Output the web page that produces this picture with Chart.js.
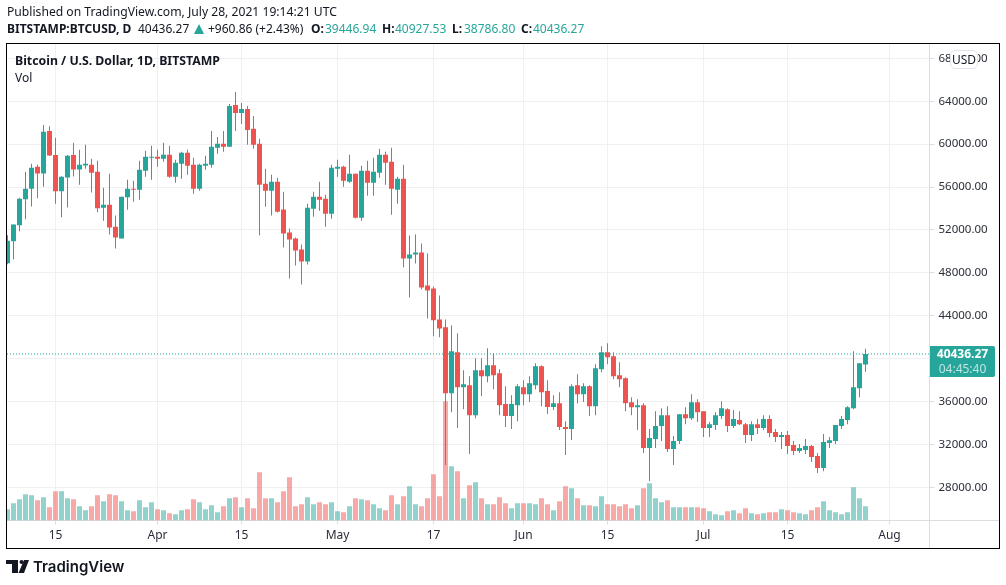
<!DOCTYPE html>
<html>
<head>
<meta charset="utf-8">
<script src="https://cdn.jsdelivr.net/npm/chart.js@4/dist/chart.umd.min.js"></script>
<style>
    body { margin: 0; background: #fff; font-family: "Noto Sans", sans-serif; color: #131722; }
    #wrap { position: relative; width: 1006px; height: 585px; overflow: hidden; }
    canvas { position: absolute; left: 0; top: 0; }
    .t { position: absolute; white-space: nowrap; font-size: 12px; line-height: 16px; }
    .b { font-weight: 700; }
    .up { color: #26a69a; }
    #frame { position: absolute; left: 6px; top: 43px; width: 994px; height: 506px; box-sizing: border-box; border: 1px solid #000; }
    #usd { position: absolute; left: 950px; top: 50px; width: 28px; height: 19px; box-sizing: border-box; background: #fff; border: 1px solid #e0e3eb; border-radius: 5px; font-size: 12px; line-height: 17px; text-align: center; }
    #last { position: absolute; left: 930px; top: 346px; width: 65px; height: 31px; background: #26a69a; border-radius: 0 2px 2px 0; text-align: center; font-size: 12px; line-height: 15px; color: #fff; }
    #last div:last-child { color: rgba(255,255,255,.7); }
</style>
</head>
<body>
<div id="wrap">
    <canvas id="btcChart" width="1006" height="585"></canvas>
    <div id="frame"></div>

    <div class="t" style="left:7px;top:4px;font-size:12.15px">Published on TradingView.com, July 28, 2021 19:14:21 UTC</div>
    <div class="t b" style="left:7px;top:21px">BITSTAMP:BTCUSD, D</div>
    <div class="t" style="left:138px;top:21px">40436.27</div>
    <svg style="position:absolute;left:194px;top:24px" width="10" height="10"><polygon points="5,0 10,10 0,10" fill="#26a69a"/></svg>
    <div class="t" style="left:208px;top:21px">+960.86 (+2.43%)</div>
    <div class="t b" style="left:311px;top:21px">O:</div><div class="t up" style="left:325px;top:21px">39446.94</div>
    <div class="t b" style="left:382px;top:21px">H:</div><div class="t up" style="left:395px;top:21px">40927.53</div>
    <div class="t b" style="left:452px;top:21px">L:</div><div class="t up" style="left:464px;top:21px">38786.80</div>
    <div class="t b" style="left:521px;top:21px">C:</div><div class="t up" style="left:533px;top:21px">40436.27</div>

    <div class="t b" style="left:15px;top:53px;font-size:12.3px">Bitcoin / U.S. Dollar, 1D, BITSTAMP</div>
    <div class="t" style="left:15px;top:70px">Vol</div>

    <div id="usd">USD</div>
    <div id="last"><div class="b">40436.27</div><div>04:45:40</div></div>

    <svg style="position:absolute;left:6px;top:560px" width="23" height="13" viewBox="0 0 23 13">
        <path d="M0 0H12V13H6V4H0Z" fill="#131722"/>
        <circle cx="15.5" cy="2" r="2" fill="#131722"/>
        <path d="M18 0H23L18 13H12.5Z" fill="#131722"/>
    </svg>
    <div class="t" style="left:33px;top:557px;font:600 15px/20px Inter,sans-serif">TradingView</div>
</div>

<script>
// Daily BTC/USD candles, index 0 = 7 Mar 2021
const opens = [
    48900, 50950, 52440, 54855, 55850, 57890, 57270, 61240, 59000, 55600,
    56900, 59000, 57650, 58020, 58080, 57430, 54080, 54360, 52300, 51200,
    55040, 55850, 55750, 57520, 58730, 58820, 58640, 59010, 56960, 58170,
    59200, 58080, 55850, 57990, 58080, 59660, 60030, 59750, 63660, 62920,
    63290, 61430, 60030, 56310, 55660, 56500, 53900, 51760, 51200, 50170,
    49060, 53990, 55100, 54920, 53520, 57710, 57890, 56500, 57240, 53150,
    57520, 56400, 57340, 59010, 58360, 55750, 56780, 49340, 49710, 49900,
    46820, 46540, 43660, 42920, 36780, 40590, 37340, 37520, 34730, 38920,
    38360, 39380, 38640, 35760, 34640, 35660, 37340, 36690, 37520, 39290,
    36970, 35490, 35850, 33620, 33430, 37520, 36690, 37430, 35570, 39010,
    40590, 40220, 38450, 38170, 35940, 35470, 35660, 31660, 32500, 33710,
    34730, 31570, 32310, 34820, 34450, 35940, 35100, 33520, 33800, 34640,
    35290, 33710, 34270, 33890, 32870, 33890, 33520, 34360, 33150, 32680,
    32870, 31940, 31380, 31480, 31850, 30920, 29800, 32130, 32310, 33710,
    34270, 35380, 37240, 39446.94
];
const highs = [
    51500, 52500, 55010, 57430, 58170, 58080, 61800, 61680, 60590, 57000,
    59000, 60130, 59470, 59940, 58640, 58450, 55940, 57240, 53340, 55100,
    56680, 56590, 58450, 59380, 59850, 59470, 60130, 59850, 58540, 59290,
    59470, 58730, 58170, 58920, 61240, 60680, 61240, 63750, 64870, 63850,
    63570, 62640, 60500, 57710, 57150, 56870, 55570, 52130, 51290, 50640,
    54450, 55570, 56500, 55290, 58080, 58540, 57980, 59010, 57240, 57990,
    58450, 58730, 59570, 59290, 59660, 56960, 58080, 51480, 51570, 50730,
    49800, 46730, 45890, 43660, 43100, 42360, 38920, 38360, 40030, 40030,
    40960, 40500, 39010, 37430, 36590, 37620, 37990, 38360, 39570, 39380,
    37990, 36590, 36870, 34170, 37620, 38550, 37710, 37520, 39480, 41150,
    41430, 40590, 39660, 38260, 36400, 36220, 35850, 33430, 35100, 35380,
    35570, 32780, 34820, 35470, 36680, 36220, 35100, 34080, 35010, 36030,
    35380, 35200, 35100, 33990, 34170, 34360, 34730, 34730, 33430, 33150,
    33240, 32310, 32030, 32500, 31940, 31200, 32960, 32680, 33800, 34640,
    35570, 40680, 39570, 40927.53
];
const lows = [
    48800, 49240, 51880, 53000, 54200, 54950, 56030, 58900, 54450, 53180,
    54100, 56990, 56220, 57700, 55500, 53650, 52870, 51570, 50270, 51200,
    53890, 54640, 54820, 56960, 56680, 57890, 58360, 56870, 56400, 56780,
    57150, 55380, 55660, 57610, 57800, 59100, 59290, 59750, 61240, 61890,
    59940, 59570, 51480, 54170, 53340, 53620, 50360, 47480, 48690, 46920,
    48780, 53240, 53800, 52310, 53050, 56960, 56030, 56400, 53060, 52870,
    55200, 55200, 56870, 56220, 53430, 54450, 48500, 45710, 48870, 46450,
    43750, 42080, 41990, 30080, 35010, 33520, 35290, 31100, 34450, 36500,
    37800, 37150, 34730, 33620, 33430, 34170, 35660, 35950, 37150, 35570,
    34830, 35200, 33340, 31010, 32410, 35850, 35950, 34640, 34730, 38730,
    39480, 38080, 37330, 35100, 34730, 33340, 31200, 28590, 31660, 32310,
    31290, 30080, 32030, 33890, 34270, 34080, 32680, 32680, 33340, 34360,
    33150, 33520, 33800, 32130, 32310, 32960, 33340, 32680, 32220, 31570,
    31100, 31010, 31200, 31100, 30360, 29340, 29500, 31660, 32030, 33430,
    33890, 35290, 36400, 38786.80
];
const closes = [
    51000, 52500, 54920, 55850, 57800, 57270, 61150, 58950, 55600, 56960,
    58920, 57650, 58080, 58170, 57340, 54020, 54360, 52220, 51290, 55100,
    55850, 55750, 57610, 58820, 58820, 58640, 59010, 56960, 58270, 59200,
    57990, 55850, 58080, 58170, 59750, 60030, 59750, 63570, 62920, 63290,
    61330, 59940, 56220, 55660, 56500, 53710, 51660, 51100, 50080, 49060,
    54080, 55100, 54820, 53520, 57800, 57890, 56590, 57240, 53150, 57520,
    56400, 57430, 59010, 58270, 55850, 56780, 49340, 49710, 49900, 46640,
    46360, 43570, 42820, 36780, 40690, 37340, 37620, 34730, 38920, 38360,
    39380, 38450, 35660, 34640, 35760, 37430, 36690, 37710, 39290, 36870,
    35490, 35850, 33620, 33430, 37430, 36690, 37430, 35570, 39100, 40590,
    40120, 38360, 38080, 35850, 35470, 35660, 31660, 32590, 33710, 34730,
    31570, 32310, 34820, 34450, 35940, 35010, 33520, 33890, 34730, 35380,
    33710, 34360, 33890, 32870, 33890, 33520, 34360, 33060, 32680, 32870,
    31850, 31380, 31660, 31850, 30820, 29800, 32220, 32400, 33800, 34360,
    35470, 37330, 39570, 40436.27
];
// Volume in relative units (no scale on the picture)
const volumes = [
    34, 52, 64, 79, 76, 61, 70, 40, 88, 88,
    67, 64, 43, 31, 43, 76, 58, 79, 76, 58,
    31, 28, 61, 40, 55, 34, 31, 22, 19, 31,
    34, 64, 55, 34, 46, 25, 43, 67, 70, 40,
    67, 37, 145, 67, 67, 55, 88, 130, 43, 49,
    70, 49, 55, 49, 55, 28, 25, 43, 67, 64,
    61, 49, 37, 31, 76, 49, 73, 103, 49, 43,
    67, 139, 73, 358, 163, 148, 67, 106, 115, 67,
    49, 49, 70, 52, 37, 52, 52, 52, 49, 67,
    49, 31, 58, 103, 97, 67, 46, 46, 43, 73,
    49, 49, 43, 49, 37, 46, 97, 112, 67, 55,
    61, 40, 40, 40, 40, 40, 37, 28, 19, 16,
    28, 31, 22, 37, 22, 19, 22, 25, 25, 34,
    31, 25, 22, 19, 31, 40, 58, 31, 25, 19,
    25, 100, 67, 43
];
const priceTicks = [28000, 32000, 36000, 40000, 44000, 48000, 52000, 56000, 60000, 64000, 68000];
const dayTicks = [8, 25, 39, 55, 71, 86, 100, 116, 130, 147];
const dayLabels = ['15', 'Apr', '15', 'May', '17', 'Jun', '15', 'Jul', '15', 'Aug'];
const lastPrice = 40436.27;

const GREEN = '#26a69a';
const RED = '#ef5350';
const xMin = -0.0833;
const xMax = 153.6667;

const isUp = i => closes[i] >= opens[i];
const candleColors = opens.map((_, i) => isUp(i) ? GREEN : RED);
const volumeColors = opens.map((_, i) => isUp(i) ? 'rgba(38,166,154,.5)' : 'rgba(239,83,80,.5)');

// the axis lines run on through the price and time strips up to the frame
const axisLines = {
    id: 'axisLines',
    beforeDatasetsDraw(chart) {
        const { ctx, chartArea } = chart;
        ctx.save();
        ctx.strokeStyle = '#dcdde0';
        ctx.lineWidth = 1;
        ctx.beginPath();
        ctx.moveTo(chartArea.right, chartArea.top);
        ctx.lineTo(chartArea.right, 548);
        ctx.moveTo(chartArea.left, chartArea.bottom);
        ctx.lineTo(999, chartArea.bottom);
        ctx.stroke();
        ctx.restore();
    }
};

// grouped: false ignores barThickness, so widths are capped with maxBarThickness
const barWidth = { barPercentage: 1, categoryPercentage: 1, grouped: false, inflateAmount: 0 };

new Chart(document.getElementById('btcChart'), {
    type: 'bar',
    data: {
        datasets: [
            {
                label: 'Body',
                data: opens.map((o, i) => ({ x: i, y: [o, closes[i]] })),
                backgroundColor: candleColors,
                ...barWidth,
                maxBarThickness: 5,
                minBarLength: 1,
                order: 1
            },
            {
                label: 'Wick',
                data: lows.map((l, i) => ({ x: i, y: [l, highs[i]] })),
                backgroundColor: candleColors,
                ...barWidth,
                maxBarThickness: 1,
                order: 2
            },
            {
                type: 'line',
                label: 'Last',
                data: [{ x: xMin, y: lastPrice }, { x: xMax, y: lastPrice }],
                borderColor: GREEN,
                borderWidth: 1,
                borderDash: [1, 2],
                pointRadius: 0,
                order: 3
            },
            {
                label: 'Vol',
                data: volumes.map((v, i) => ({ x: i, y: v })),
                yAxisID: 'vol',
                backgroundColor: volumeColors,
                ...barWidth,
                maxBarThickness: 5,
                order: 4
            }
        ]
    },
    options: {
        responsive: false,
        animation: false,
        layout: { padding: { left: 7, top: 44, right: 0, bottom: 0 } },
        plugins: { legend: { display: false }, tooltip: { enabled: false } },
        scales: {
            x: {
                type: 'linear',
                min: xMin,
                max: xMax,
                offset: false,
                afterBuildTicks: scale => { scale.ticks = dayTicks.map(value => ({ value })); },
                afterFit: scale => { scale.height = 64.5; },
                border: { display: false },
                grid: { offset: false, color: '#f0f0f3', tickColor: '#dcdde0', tickLength: 4 },
                ticks: {
                    autoSkip: false,
                    maxRotation: 0,
                    padding: 4,
                    color: '#2a2e39',
                    font: { family: 'Noto Sans', size: 12 },
                    callback: (value, i) => dayLabels[i]
                }
            },
            y: {
                position: 'right',
                min: 24904,
                max: 69344,
                afterBuildTicks: scale => { scale.ticks = priceTicks.map(value => ({ value })); },
                afterFit: scale => { scale.width = 76.5; },
                border: { display: false },
                grid: { color: '#f0f0f3', tickColor: '#dcdde0', tickLength: 5 },
                ticks: {
                    padding: 4,
                    color: '#2a2e39',
                    font: { family: 'Noto Sans', size: 11.5 },
                    callback: value => value.toFixed(2)
                }
            },
            vol: { display: false, min: 0, max: 1429.5 }
        }
    },
    plugins: [axisLines]
});
</script>
</body>
</html>
